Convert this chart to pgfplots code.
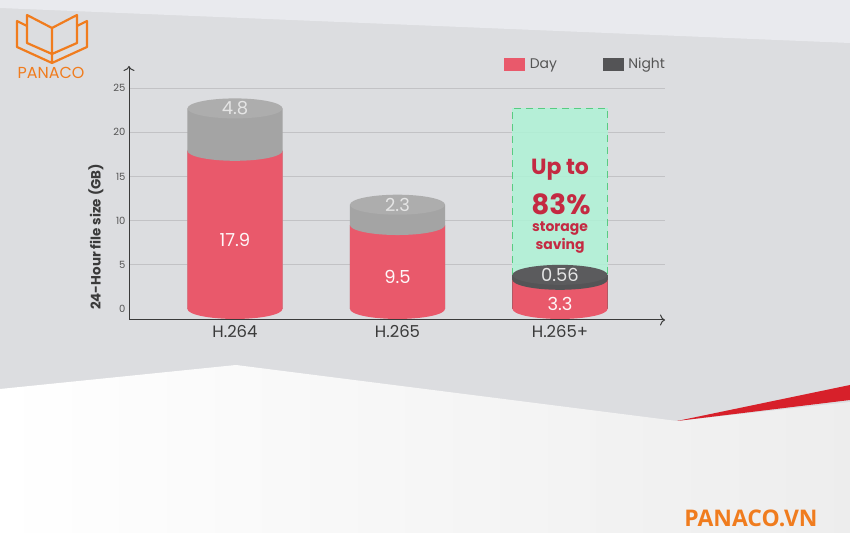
\documentclass[border=0pt]{standalone}
\usepackage{fontspec}
\setmainfont{Poppins}
\newfontfamily\opensans{Open Sans}
\usepackage{pgfplots}
\usepackage{pgfplotstable}
\pgfplotsset{compat=1.18}
\usetikzlibrary{arrows.meta}

\definecolor{daycol}{HTML}{E9596B}
\definecolor{nightcol}{HTML}{A4A4A4}
\definecolor{nighttop}{HTML}{ADADAD}
\definecolor{nightdark}{HTML}{545456}
\definecolor{darktop}{HTML}{5B5B5D}
\definecolor{bggrey}{HTML}{DCDDE0}
\definecolor{bgtop}{HTML}{E9EAEE}
\definecolor{brand}{HTML}{F07C1E}
\definecolor{saving}{HTML}{C42A42}
\definecolor{mint}{HTML}{AFF3D6}
\definecolor{mintline}{HTML}{58CC82}
\definecolor{tickcol}{HTML}{555555}
\definecolor{axiscol}{HTML}{3A3A3A}
\definecolor{gridcol}{HTML}{C2C2C5}
\definecolor{streak}{HTML}{D7202A}

% ellipse used for the cylinder caps
\pgfdeclareplotmark{cylcap}{%
  \pgfpathellipse{\pgfpointorigin}{\pgfqpoint{47.5bp}{0pt}}{\pgfqpoint{0pt}{10bp}}%
  \pgfusepathqfill}

\pgfplotstableread{
x day night
0 17.9 4.8
1 9.5 2.3
2 3.3 0.56
}\sizes

\begin{document}
\begin{tikzpicture}
% background, in pixel coordinates (y down)
\begin{scope}[x=1bp, y=-1bp, yshift=533bp]
  \fill[bggrey] (0,0) rectangle (850,533);
  \fill[bgtop] (0,0) -- (850,0) -- (850,43) -- (0,8) -- cycle;
  \shade[left color=white, right color=black!7] (0,389) -- (236,365) -- (677,421) -- (850,402) -- (850,533) -- (0,533) -- cycle;
  \fill[streak] (677,421) -- (850,385) -- (850,400) -- cycle;
  % logo
  \draw[brand, line width=2.2bp, line join=round, line cap=round]
    (17,21) -- (17,47) -- (52,63) -- (87,47) -- (87,21)
    (17,21) -- (27,26)  (87,21) -- (77,26)
    (27,15) -- (27,43) -- (52,54) -- (77,43) -- (77,15)
    (27,15) -- (52,28) -- (77,15)
    (52,28) -- (52,63);
  \node[text=brand, font=\fontsize{16}{16}\selectfont] at (51,73) {PANACO};
  \node[text=brand, font=\opensans\bfseries\fontsize{23}{23}\selectfont] at (751,518) {PANACO.VN};
\end{scope}

\begin{axis}[
  at={(129bp,213bp)}, anchor=south west,
  scale only axis, width=536bp, height=254bp,
  xmin=-0.652, xmax=2.646, ymin=-1.25, ymax=27.5,
  clip=false,
  axis lines=left,
  axis line style={draw=axiscol, line width=1bp, -{To[length=5bp, width=11bp]}},
  major tick length=0pt,
  xtick={0,1,2}, xticklabels={H.264,H.265,H.265+},
  x tick label style={font=\fontsize{16.5}{17}\selectfont, text=axiscol, yshift=-2bp},
  ytick={5,10,...,25},
  extra y ticks={0}, extra y tick style={grid=none},
  y tick label style={font=\fontsize{10}{10}\selectfont, text=tickcol},
  /pgf/number format/assume math mode=true,
  ymajorgrids, grid style={draw=gridcol, line width=0.8bp},
  ylabel={24-Hour file size (GB)},
  ylabel style={font=\bfseries\fontsize{13.5}{14}\selectfont, text=axiscol,
    at={(axis description cs:-0.062,0.327)}, anchor=center},
  legend columns=2,
  legend style={at={(axis description cs:0.70,1.008)}, anchor=west,
    draw=none, fill=none, inner sep=0pt,
    font=\fontsize{14}{14}\selectfont, text=tickcol,
    /tikz/every odd column/.append style={column sep=3bp},
    /tikz/every even column/.append style={column sep=44bp}},
]
\addlegendimage{legend image code/.code={\fill[daycol] (0bp,-6bp) rectangle (20bp,6bp);}}
\addlegendentry{Day}
\addlegendimage{legend image code/.code={\fill[nightdark] (0bp,-6bp) rectangle (20bp,6bp);}}
\addlegendentry{Night}

% night part: bar up to the total, day bar drawn over it
\addplot[forget plot, ybar, bar width=0.585, bar shift=0pt, fill=nightcol, draw=none,
  restrict x to domain=-0.5:1.5]
  table[x=x, y expr=\thisrow{day}+\thisrow{night}] {\sizes};
\addplot[forget plot, ybar, bar width=0.585, bar shift=0pt, fill=nightdark, draw=none,
  restrict x to domain=1.5:2.5]
  table[x=x, y expr=\thisrow{day}+\thisrow{night}] {\sizes};
\addplot[forget plot, ybar, bar width=0.585, bar shift=0pt, fill=daycol, draw=none]
  table[x=x, y=day] {\sizes};

% bottom caps
\addplot[forget plot, only marks, mark=cylcap, mark options={draw=none, fill=daycol}]
  table[x=x, y expr=0] {\sizes};
% day/night boundary
\addplot[forget plot, only marks, mark=cylcap, mark options={draw=none, fill=nightcol},
  restrict x to domain=-0.5:1.5]
  table[x=x, y=day] {\sizes};
\addplot[forget plot, only marks, mark=cylcap, mark options={draw=none, fill=nightdark},
  restrict x to domain=1.5:2.5]
  table[x=x, y=day] {\sizes};

% saving box over H.265+
\draw[mintline, fill=mint, fill opacity=0.85, line width=1.6bp, dash pattern=on 7bp off 5bp]
  (axis cs:1.7075,3.86) rectangle (axis cs:2.2925,22.7);

% top caps
\addplot[forget plot, only marks, mark=cylcap, mark options={draw=none, fill=nighttop},
  restrict x to domain=-0.5:1.5]
  table[x=x, y expr=\thisrow{day}+\thisrow{night}] {\sizes};
\addplot[forget plot, only marks, mark=cylcap, mark options={draw=none, fill=darktop},
  restrict x to domain=1.5:2.5]
  table[x=x, y expr=\thisrow{day}+\thisrow{night}] {\sizes};

% value labels
\addplot[forget plot, draw=none, mark=none, nodes near coords, point meta=explicit symbolic,
  every node near coord/.append style={anchor=center, text=white!95!daycol, font=\fontsize{18}{18}\selectfont}]
  table[x=x, y expr=\thisrow{day}/2-1.1, meta=day] {\sizes};
\addplot[forget plot, draw=none, mark=none, nodes near coords, point meta=explicit symbolic,
  every node near coord/.append style={anchor=center, text=white!90!black, font=\fontsize{18}{18}\selectfont}]
  table[x=x, y expr=\thisrow{day}+\thisrow{night}, meta=night] {\sizes};
\end{axis}

\begin{scope}[x=1bp, y=-1bp, yshift=533bp]
  \node[text=saving, font=\bfseries\fontsize{22}{22}\selectfont] at (560,170) {Up to};
  \node[text=saving, font=\bfseries\fontsize{28}{28}\selectfont] at (561,204) {83\%};
  \node[text=saving, font=\bfseries\fontsize{14}{14}\selectfont] at (560,229) {storage};
  \node[text=saving, font=\bfseries\fontsize{14}{14}\selectfont] at (560,246) {saving};
\end{scope}
\end{tikzpicture}
\end{document}
